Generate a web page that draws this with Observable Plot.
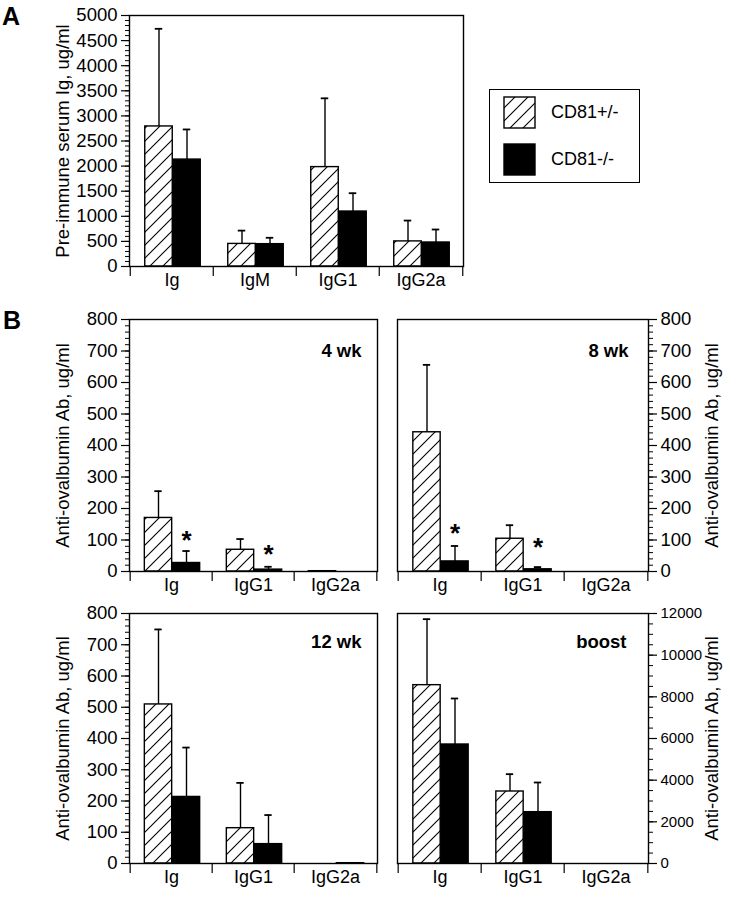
<!DOCTYPE html>
<html><head><meta charset="utf-8">
<script src="https://cdn.jsdelivr.net/npm/d3@7"></script>
<script src="https://cdn.jsdelivr.net/npm/@observablehq/plot@0.6"></script>
<style>
body{margin:0;background:#fff;}
#root{position:relative;width:740px;height:899px;font-family:"Liberation Sans",Arial,Helvetica,sans-serif;color:#000;overflow:hidden;}
.abs{position:absolute;}
.letter{position:absolute;font-weight:bold;font-size:25px;line-height:30px;}
</style></head><body>
<svg width="0" height="0" style="position:absolute"><defs>
<pattern id="hatch" patternUnits="userSpaceOnUse" width="13" height="13">
<path d="M-2,15 L15,-2 M-2,2 L2,-2 M11,15 L15,11" stroke="#000" stroke-width="1.1" fill="none"/>
</pattern></defs></svg>
<div id="root"></div>
<script>
// ---------- data ----------
const seriesNames = ["CD81+/-", "CD81-/-"];

// Panel A: pre-immune serum Ig (ug/ml); *Err = top of error bar
const catsA = ["Ig", "IgM", "IgG1", "IgG2a"];
const hetA = [2790, 450, 1980, 500];
const hetAErr = [4735, 715, 3350, 915];
const koA = [2130, 445, 1095, 478];
const koAErr = [2730, 572, 1460, 737];

// Panel B: anti-ovalbumin Ab (ug/ml)
const catsB = ["Ig", "IgG1", "IgG2a"];
const wk4Het = [170, 69, 1];
const wk4HetErr = [255, 103, null];
const wk4Ko = [27, 6, 0];
const wk4KoErr = [65, 15, null];
const wk4Star = [120, 76, null];

const wk8Het = [442, 104, 0];
const wk8HetErr = [656, 147, null];
const wk8Ko = [32, 7, 0];
const wk8KoErr = [81, 14, null];
const wk8Star = [142, 97, null];

const wk12Het = [509, 113, 0];
const wk12HetErr = [749, 258, null];
const wk12Ko = [213, 62, 1];
const wk12KoErr = [371, 155, null];

const boostHet = [8560, 3456, 0];
const boostHetErr = [11728, 4288, null];
const boostKo = [5712, 2464, 0];
const boostKoErr = [7920, 3888, null];

const yLabelA = "Pre-immune serum Ig, ug/ml";
const yLabelB = "Anti-ovalbumin Ab, ug/ml";

// ---------- helpers ----------
const FONT = '"Liberation Sans", Arial, Helvetica, sans-serif';
const root = document.getElementById("root");

function buildRows(cats, het, hetErr, ko, koErr, koStar) {
  const rows = [];
  cats.forEach((c, i) => {
    rows.push({cat: c, group: "het", value: het[i], err: hetErr[i], star: null});
    rows.push({cat: c, group: "ko", value: ko[i], err: koErr[i], star: koStar ? koStar[i] : null});
  });
  return rows;
}

function panel(o) {
  const {cats, rows, left, top, width, height, mt, mr, mb, ml, yMax, major, minor,
         anchor, label, labelOffset, title, titleDx, titleDy, tickFont = 18.5} = o;
  const step = (width - ml - mr) / cats.length;
  const BW = 28, CAP = 8, SW = 1.4;
  const offHet = -13, offKo = 15;
  const ins = c => ({insetLeft: step / 2 + c - BW / 2, insetRight: step / 2 - c - BW / 2});
  const capIns = {insetLeft: step / 2 - CAP / 2, insetRight: step / 2 - CAP / 2};
  const het = rows.filter(d => d.group === "het");
  const ko = rows.filter(d => d.group === "ko");
  const marks = [
    Plot.barY(het, {x: "cat", y: "value", fill: "url(#hatch)", stroke: "black", strokeWidth: SW, ...ins(offHet)}),
    Plot.barY(ko, {x: "cat", y: "value", fill: "black", stroke: "black", strokeWidth: SW, ...ins(offKo)}),
    Plot.ruleX(het.filter(d => d.err != null), {x: "cat", y1: "value", y2: "err", dx: offHet, strokeWidth: SW}),
    Plot.ruleX(ko.filter(d => d.err != null), {x: "cat", y1: "value", y2: "err", dx: offKo, strokeWidth: SW}),
    Plot.tickY(het.filter(d => d.err != null), {x: "cat", y: "err", dx: offHet, strokeWidth: 1.8, ...capIns}),
    Plot.tickY(ko.filter(d => d.err != null), {x: "cat", y: "err", dx: offKo, strokeWidth: 1.8, ...capIns}),
    Plot.text(ko.filter(d => d.star != null), {x: "cat", y: "star", text: () => "*", dx: offKo, dy: 7,
      fontSize: 26, fontWeight: "bold", lineAnchor: "middle", textAnchor: "middle"}),
    Plot.frame({strokeWidth: SW}),
    Plot.axisY({anchor, ticks: major, tickSize: 8, tickPadding: 4, fontSize: tickFont, tickFormat: d3.format("d"),
      label: null, strokeWidth: 1.2}),
    Plot.axisY({anchor, ticks: minor, tickSize: 4, tickFormat: () => "", fontSize: 18.5,
      label, labelAnchor: "center", labelArrow: "none", labelOffset, strokeWidth: 1}),
    Plot.axisX({tickSize: 0, tickPadding: 7, fontSize: 18, label: null}),
    Plot.axisX({tickSize: 10, tickFormat: () => "", label: null, dx: -step / 2, strokeWidth: 1.2}),
    Plot.axisX([cats[cats.length - 1]], {tickSize: 10, tickFormat: () => "", label: null, dx: step / 2, strokeWidth: 1.2})
  ];
  if (title) {
    marks.push(Plot.text([title], {frameAnchor: "top-right", dx: titleDx, dy: titleDy, fontSize: 18.5,
      fontWeight: "bold", lineAnchor: "middle", textAnchor: "end"}));
  }
  const svg = Plot.plot({
    width, height, marginTop: mt, marginRight: mr, marginBottom: mb, marginLeft: ml,
    x: {domain: cats, padding: 0},
    y: {domain: [0, yMax]},
    style: {fontFamily: FONT, fontSize: "18px", background: "transparent", overflow: "visible", color: "black"},
    marks
  });
  svg.classList.add("abs");
  svg.style.left = left + "px";
  svg.style.top = top + "px";
  root.appendChild(svg);
}

// ---------- panel A ----------
panel({cats: catsA, rows: buildRows(catsA, hetA, hetAErr, koA, koAErr, null),
  left: 0, top: 0, width: 470, height: 300, mt: 15, mr: 7, mb: 34, ml: 129,
  yMax: 5000, major: 10, minor: 50, anchor: "left", label: yLabelA, labelOffset: 74});

// ---------- panel B ----------
panel({cats: catsB, rows: buildRows(catsB, wk4Het, wk4HetErr, wk4Ko, wk4KoErr, wk4Star),
  left: 0, top: 300, width: 385, height: 300, mt: 19, mr: 8, mb: 29, ml: 129,
  yMax: 800, major: 8, minor: 40, anchor: "left", label: yLabelB, labelOffset: 74,
  title: "4 wk", titleDx: -16, titleDy: 32});
panel({cats: catsB, rows: buildRows(catsB, wk8Het, wk8HetErr, wk8Ko, wk8KoErr, wk8Star),
  left: 385, top: 300, width: 355, height: 300, mt: 19, mr: 92, mb: 29, ml: 12,
  yMax: 800, major: 8, minor: 40, anchor: "right", label: yLabelB, labelOffset: 69,
  title: "8 wk", titleDx: -20, titleDy: 32});
panel({cats: catsB, rows: buildRows(catsB, wk12Het, wk12HetErr, wk12Ko, wk12KoErr, null),
  left: 0, top: 600, width: 385, height: 299, mt: 13, mr: 8, mb: 36, ml: 129,
  yMax: 800, major: 8, minor: 40, anchor: "left", label: yLabelB, labelOffset: 74,
  title: "12 wk", titleDx: -16, titleDy: 29});
panel({cats: catsB, rows: buildRows(catsB, boostHet, boostHetErr, boostKo, boostKoErr, null),
  left: 385, top: 600, width: 355, height: 299, mt: 13, mr: 92, mb: 36, ml: 12,
  yMax: 12000, major: 6, minor: 24, anchor: "right", label: yLabelB, labelOffset: 69,
  title: "boost", titleDx: -22, titleDy: 29, tickFont: 15});

// ---------- legend ----------
const legend = document.createElement("div");
legend.className = "abs";
Object.assign(legend.style, {left: "489px", top: "89px", width: "151px", height: "94px",
  border: "1.4px solid #000", boxSizing: "border-box", background: "#fff"});
const swatchFills = ["url(#hatch)", "#000"];
seriesNames.forEach((name, i) => {
  const sw = document.createElementNS("http://www.w3.org/2000/svg", "svg");
  sw.setAttribute("width", 33); sw.setAttribute("height", 33);
  sw.classList.add("abs");
  sw.style.left = "13px"; sw.style.top = (6 + i * 47) + "px";
  const r = document.createElementNS("http://www.w3.org/2000/svg", "rect");
  r.setAttribute("x", 1); r.setAttribute("y", 1); r.setAttribute("width", 31); r.setAttribute("height", 31);
  r.setAttribute("fill", swatchFills[i]); r.setAttribute("stroke", "#000"); r.setAttribute("stroke-width", 1.4);
  sw.appendChild(r);
  legend.appendChild(sw);
  const t = document.createElement("div");
  t.className = "abs";
  t.textContent = name;
  Object.assign(t.style, {left: "61px", top: (12 + i * 47) + "px", fontSize: "18px", lineHeight: "20px"});
  legend.appendChild(t);
});
root.appendChild(legend);

// ---------- panel letters ----------
[["A", 2, 1], ["B", 3, 305]].forEach(([txt, x, y]) => {
  const d = document.createElement("div");
  d.className = "letter";
  d.textContent = txt;
  d.style.left = x + "px"; d.style.top = y + "px";
  root.appendChild(d);
});
</script>
</body></html>
